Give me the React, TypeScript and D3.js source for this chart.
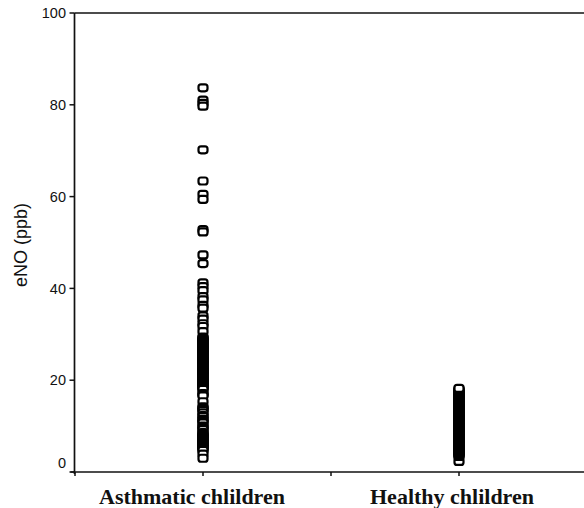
import React from "react";
import * as d3 from "d3";

const categories = ["Asthmatic chlildren", "Healthy chlildren"];
const yTicks = [0, 20, 40, 60, 80, 100];
const yTitle = "eNO (ppb)";

const asthmatic = [
  83.7, 81.0, 80.3, 79.7, 70.2, 63.4, 60.5, 59.4, 52.8, 52.3, 47.3, 45.4,
  41.2, 40.4, 39.5, 38.2, 37.5, 36.3, 35.7, 34.0, 33.3, 32.3, 31.7, 30.6, 29.4,
  29.2, 29.0, 28.8, 28.6, 28.4, 28.2, 28.0, 27.8, 27.6, 27.4, 27.2, 27.0, 26.8,
  26.6, 26.4, 26.2, 26.0, 25.8, 25.6, 25.4, 25.2, 25.0, 24.8, 24.6, 24.4, 24.2,
  24.0, 23.8, 23.6, 23.4, 23.2, 23.0, 22.8, 22.6, 22.4, 22.2, 22.0, 21.8, 21.6,
  21.4, 21.2, 21.0, 20.8, 20.6, 20.4, 20.2, 20.0, 19.8, 19.6, 19.4, 19.2, 19.0,
  18.8, 18.6, 18.4, 18.2, 18.0,
  17.1, 16.9, 16.6, 15.3, 14.2, 14.0, 13.7, 13.4, 12.9, 12.3, 12.1, 11.5, 11.3,
  11.0, 10.7, 10.0, 9.8, 9.5, 9.2, 8.6, 8.4, 8.2, 8.0, 7.8, 7.6, 7.4, 7.2, 7.0,
  6.8, 6.6, 6.4, 6.2, 6.0, 5.8, 5.6, 5.4, 5.2, 5.0, 4.7, 3.9, 3.0,
];

const healthy = [
  2.3, 3.4, 3.6, 3.8, 4.0, 4.2, 4.4, 4.6, 4.8, 5.0, 5.2, 5.4, 5.6, 5.8, 6.0,
  6.2, 6.4, 6.6, 6.8, 7.0, 7.2, 7.4, 7.6, 7.8, 8.0, 8.2, 8.4, 8.6, 8.8, 9.0,
  9.2, 9.4, 9.6, 9.8, 10.0, 10.2, 10.4, 10.6, 10.8, 11.0, 11.2, 11.4, 11.6,
  11.8, 12.0, 12.2, 12.4, 12.6, 12.8, 13.0, 13.2, 13.4, 13.6, 13.8, 14.0, 14.2,
  14.4, 14.6, 14.8, 15.0, 15.2, 15.4, 15.6, 15.8, 16.0, 16.2, 16.4, 16.6, 16.8,
  17.0, 17.2, 17.4, 17.6, 17.8, 18.0, 18.2,
];

const series = [asthmatic, healthy];

export default function App() {
  const W = 584;
  const H = 508;
  const x = d3.scaleLinear().domain([0, 4]).range([75, 587]);
  const y = d3.scaleLinear().domain([0, 100]).range([472, 13]);
  const axisX = 74.5;
  const axisY = 472;
  const mw = 9;
  const mh = 7;

  return (
    <svg
      width={W}
      height={H}
      style={{ position: "absolute", left: 0, top: 0, background: "#fff" }}
    >
      <rect x={0} y={0} width={W} height={H} fill="#fff" />
      <line x1={axisX} x2={W} y1={y(100)} y2={y(100)} stroke="#111" strokeWidth={1.7} />
      <line x1={axisX} x2={axisX} y1={y(100)} y2={axisY + 2} stroke="#111" strokeWidth={1.7} />
      {yTicks.map((t) => (
        <g key={t}>
          <line x1={axisX - 5} x2={axisX} y1={y(t)} y2={y(t)} stroke="#111" strokeWidth={1.5} />
          <text
            x={66}
            y={y(t) - (t === 0 ? 9 : 0)}
            dy="0.36em"
            textAnchor="end"
            fontFamily="'Liberation Sans', Arial, sans-serif"
            fontSize={14.5}
            fill="#111"
          >
            {t}
          </text>
        </g>
      ))}
      <line x1={axisX - 4} x2={W} y1={axisY} y2={axisY} stroke="#111" strokeWidth={1.7} />
      {[0, 1, 2, 3].map((t) => (
        <line key={t} x1={x(t)} x2={x(t)} y1={axisY} y2={axisY + 4} stroke="#111" strokeWidth={1.5} />
      ))}
      {categories.map((c, i) => (
        <text
          key={c}
          x={x(1 + 2 * i) - (i === 0 ? 11 : 7)}
          y={504}
          textAnchor="middle"
          fontFamily="'Liberation Serif', 'Times New Roman', serif"
          fontWeight="bold"
          fontSize={22}
          fill="#111"
        >
          {c}
        </text>
      ))}
      <text
        transform={`translate(27,245) rotate(-90)`}
        textAnchor="middle"
        fontFamily="'Liberation Sans', Arial, sans-serif"
        fontSize={18}
        fill="#111"
      >
        {yTitle}
      </text>
      {series.map((vals, i) =>
        vals.map((v, j) => (
          <rect
            key={`${i}-${j}`}
            x={x(1 + 2 * i) - mw / 2}
            y={y(v) - mh / 2}
            width={mw}
            height={mh}
            rx={2.5}
            ry={2.5}
            fill="#fff"
            stroke="#000"
            strokeWidth={2.2}
          />
        ))
      )}
    </svg>
  );
}
